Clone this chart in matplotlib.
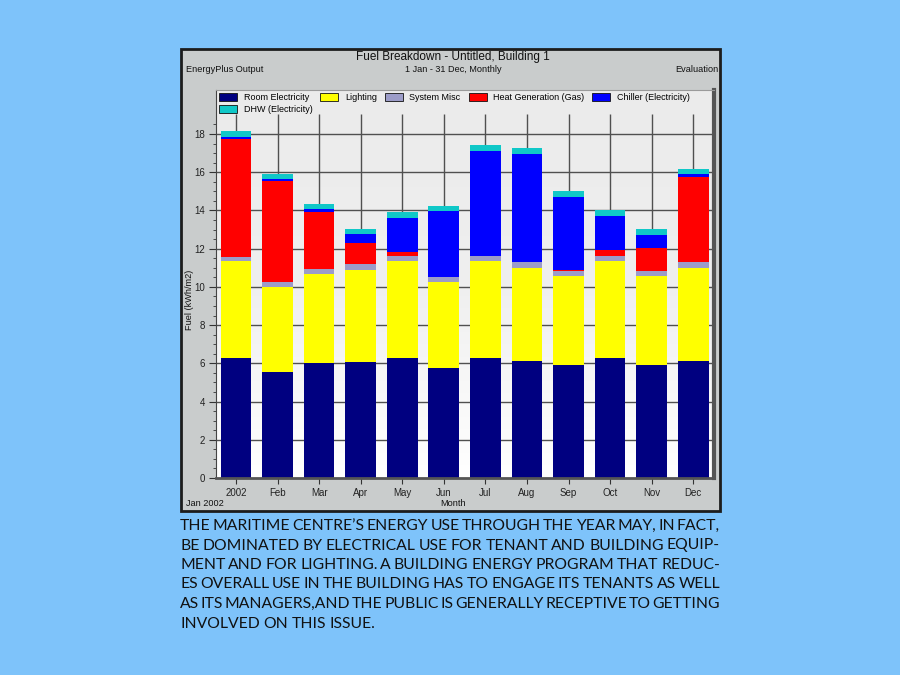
import numpy as np
import matplotlib
matplotlib.use('Agg')
import matplotlib.pyplot as plt
from matplotlib.patches import Rectangle, Patch
from matplotlib.colors import LinearSegmentedColormap

months = ['2002', 'Feb', 'Mar', 'Apr', 'May', 'Jun', 'Jul', 'Aug', 'Sep', 'Oct', 'Nov', 'Dec']
room_elec = [6.28, 5.55, 6.02, 6.05, 6.28, 5.75, 6.28, 6.14, 5.90, 6.28, 5.90, 6.14]
lighting = [5.09, 4.43, 4.66, 4.83, 5.08, 4.49, 5.09, 4.87, 4.69, 5.08, 4.67, 4.87]
system_misc = [0.21, 0.28, 0.26, 0.30, 0.26, 0.26, 0.25, 0.29, 0.26, 0.26, 0.26, 0.28]
heat_gas = [6.14, 5.30, 3.00, 1.10, 0.22, 0.03, 0.00, 0.00, 0.05, 0.31, 1.21, 4.48]
chiller = [0.11, 0.07, 0.12, 0.47, 1.75, 3.46, 5.49, 5.65, 3.79, 1.76, 0.68, 0.14]
dhw = [0.33, 0.28, 0.28, 0.28, 0.33, 0.26, 0.31, 0.30, 0.31, 0.31, 0.29, 0.28]

series = [
    ('Room Electricity', room_elec, '#000080'),
    ('Lighting', lighting, '#ffff00'),
    ('System Misc', system_misc, '#9c9cc8'),
    ('Heat Generation (Gas)', heat_gas, '#ff0000'),
    ('Chiller (Electricity)', chiller, '#0000ff'),
    ('DHW (Electricity)', dhw, '#10c8c8'),
]

caption = [
    "THE MARITIME CENTRE’S ENERGY USE THROUGH THE YEAR MAY, IN FACT,",
    "BE DOMINATED BY ELECTRICAL USE FOR TENANT AND BUILDING EQUIP-",
    "MENT AND FOR LIGHTING. A BUILDING ENERGY PROGRAM THAT REDUC-",
    "ES OVERALL USE IN THE BUILDING HAS TO ENGAGE ITS TENANTS AS WELL",
    "AS ITS MANAGERS,AND THE PUBLIC IS GENERALLY RECEPTIVE TO GETTING",
    "INVOLVED ON THIS ISSUE.",
]

W, H = 900, 675
fig = plt.figure(figsize=(9, 6.75), dpi=100)
fig.patch.set_facecolor('#7ec3fa')


def box(x0, y0, x1, y1):
    return [x0 / W, 1 - y1 / H, (x1 - x0) / W, (y1 - y0) / H]


def ftext(x, y, s, **kw):
    return fig.text(x / W, 1 - y / H, s, **kw)


cap_font = 'Lato'

# grey chart panel
fig.patches.append(Rectangle((181 / W, 1 - 511 / H), (720 - 181) / W, (511 - 49) / H,
                             transform=fig.transFigure, facecolor='#c9cccc',
                             edgecolor='#1c1c1c', lw=2, zorder=-5))

ax = fig.add_axes(box(216, 90, 714, 478))
ymax = 20.3
xlo, xhi = -0.48, 11.5

bg = LinearSegmentedColormap.from_list('bg', ['#ebebeb', '#efefef', '#ffffff'])
ax.imshow(np.linspace(0, 1, 256).reshape(-1, 1), cmap=bg, aspect='auto',
          extent=(xlo, xhi, 0, ymax), zorder=0)

x = np.arange(len(months))
ax.vlines(x, 0, 19.05, colors='#505050', lw=1, zorder=1)
for v in range(2, 19, 2):
    ax.axhline(v, color='#505050', lw=1, zorder=1)

bottom = np.zeros(len(months))
for name, vals, col in series:
    ax.bar(x, vals, width=0.74, bottom=bottom, color=col, lw=0, zorder=2)
    bottom += np.array(vals)

ax.set_xlim(xlo, xhi)
ax.set_ylim(0, ymax)

ax.set_yticks(range(0, 19, 2))
ax.set_yticks(np.arange(0, 18.6, 0.5), minor=True)
ax.set_xticks(x)
ax.set_xticklabels(months)
ax.tick_params(axis='y', which='major', length=5, width=0.8, color='#333333',
               labelsize=7, pad=3, labelcolor='#222222')
ax.tick_params(axis='y', which='minor', length=2.5, width=0.6, color='#333333')
ax.tick_params(axis='x', length=4, width=0.8, color='#333333', labelsize=7,
               pad=3, labelcolor='#222222')
for lab in ax.get_xticklabels() + ax.get_yticklabels():
    lab.set_family('Liberation Sans')

ax.spines['left'].set_color('#444444')
ax.spines['left'].set_linewidth(0.8)
ax.spines['top'].set_color('#9a9a9a')
ax.spines['top'].set_linewidth(0.8)
ax.spines['bottom'].set_color('#555555')
ax.spines['bottom'].set_linewidth(2)
ax.spines['right'].set_color('#555555')
ax.spines['right'].set_linewidth(3)

# legend fills column by column, so put DHW second to get it under Room Electricity
handles = [Patch(facecolor=c, edgecolor='#111111', lw=0.6, label=n) for n, _, c in series]
handles = [handles[0], handles[5], handles[1], handles[2], handles[3], handles[4]]
ax.legend(handles=handles, loc='upper left', bbox_to_anchor=(0.0, 1.0), ncol=5,
          frameon=False, prop={'family': 'Liberation Sans', 'size': 6.5},
          handlelength=2.0, handleheight=0.9, handletextpad=0.7,
          columnspacing=0.9, labelspacing=0.35, borderaxespad=0.15, borderpad=0.2)

fnt = dict(family='Liberation Sans', color='#111111')
ftext(453, 57, 'Fuel Breakdown - Untitled, Building 1', ha='center', va='center', fontsize=8.5, **fnt)
ftext(186, 70, 'EnergyPlus Output', ha='left', va='center', fontsize=6.6, **fnt)
ftext(453, 70, '1 Jan - 31 Dec, Monthly', ha='center', va='center', fontsize=6.6, **fnt)
ftext(718, 70, 'Evaluation', ha='right', va='center', fontsize=6.6, **fnt)
ftext(186, 503, 'Jan 2002', ha='left', va='center', fontsize=6.6, **fnt)
ftext(453, 503, 'Month', ha='center', va='center', fontsize=6.6, **fnt)
ftext(189, 300, 'Fuel (kWh/m2)', ha='center', va='center', rotation=90, fontsize=6.6, **fnt)

# justified caption
renderer = fig.canvas.get_renderer()
cap_left, cap_width = 180, 540
baselines = [529.5, 549.5, 569, 588.5, 608, 627.5]


def word_widths(words, size):
    ws = []
    for w in words:
        t = fig.text(0, 0, w, fontsize=size, family=cap_font)
        ws.append(t.get_window_extent(renderer).width)
        t.remove()
    return ws


size = 12
while size > 8:
    ok = True
    for line in caption[:-1]:
        words = line.split()
        ws = word_widths(words, size)
        gap = (cap_width - sum(ws)) / (len(words) - 1)
        if gap < size * 0.15:
            ok = False
            break
    if ok:
        break
    size -= 0.1

for i, line in enumerate(caption):
    words = line.split()
    ws = word_widths(words, size)
    if i < len(caption) - 1:
        gap = (cap_width - sum(ws)) / (len(words) - 1)
    else:
        gap = size * 0.3
    xpos = cap_left
    for w, wd in zip(words, ws):
        ftext(xpos, baselines[i], w, ha='left', va='baseline', fontsize=size,
              family=cap_font, color='#111111')
        xpos += wd + gap

fig.savefig('out.png', dpi=100, facecolor=fig.get_facecolor())
